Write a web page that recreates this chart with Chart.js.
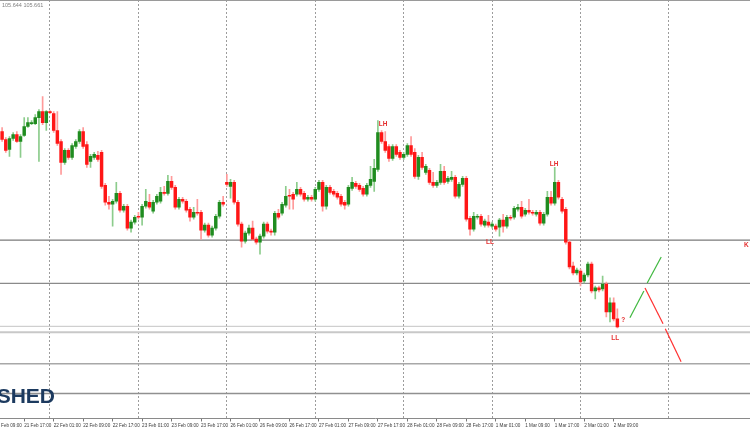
<!DOCTYPE html>
<html><head><meta charset="utf-8">
<script src="https://cdn.jsdelivr.net/npm/chart.js@4"></script>
<style>html,body{margin:0;padding:0;background:#fff;overflow:hidden}#wrap{width:750px;height:430px;position:relative}</style>
</head><body><div id="wrap"><canvas id="c" width="750" height="430"></canvas></div>
<script>
// hour index of first candle (0 = 22 Feb 00:00, weekends skipped)
const firstBar = -13;
const opens = [
107.55,107.47,107.37,107.48,107.52,107.45,107.51,107.60,107.63,107.63,
107.69,107.75,107.64,107.75,107.73,107.56,107.45,107.24,107.36,107.29,
107.40,107.45,107.55,107.42,107.25,107.29,107.31,107.34,107.01,106.84,
106.82,106.85,106.93,106.76,106.80,106.58,106.64,106.70,106.69,106.80,
106.84,106.75,106.84,106.85,106.94,106.93,107.05,106.99,106.79,106.87,
106.85,106.77,106.69,106.74,106.74,106.56,106.61,106.51,106.58,106.70,
106.84,107.04,107.00,107.04,106.84,106.62,106.45,106.53,106.58,106.47,
106.44,106.50,106.62,106.55,106.54,106.73,106.73,106.81,106.91,106.92,
106.92,106.97,106.93,106.87,106.89,106.87,106.97,107.04,106.80,106.99,
106.95,106.93,106.90,106.84,106.82,106.98,107.03,107.01,106.98,106.92,
107.01,107.05,107.17,107.54,107.45,107.40,107.28,107.40,107.34,107.29,
107.32,107.41,107.34,107.10,107.29,107.14,107.16,107.04,107.01,107.04,
107.15,107.05,107.07,107.09,106.90,107.02,107.08,106.68,106.57,106.69,
106.70,106.61,106.64,106.60,106.60,106.59,106.66,106.60,106.69,106.69,
106.77,106.79,106.72,106.76,106.74,106.72,106.74,106.63,106.72,106.89,
106.83,107.04,106.87,106.77,106.44,106.20,106.13,106.15,106.05,106.11,
106.22,105.95,105.98,105.97,106.02,105.74,105.83,105.67];
const closes = [
107.47,107.36,107.48,107.52,107.45,107.50,107.60,107.64,107.64,107.69,
107.75,107.64,107.75,107.74,107.56,107.43,107.24,107.36,107.29,107.41,
107.45,107.55,107.40,107.22,107.30,107.32,107.27,107.00,106.84,106.82,
106.85,106.93,106.76,106.80,106.58,106.64,106.69,106.69,106.80,106.85,
106.79,106.84,106.90,106.94,106.93,107.05,106.99,106.79,106.87,106.85,
106.76,106.69,106.74,106.73,106.56,106.61,106.51,106.58,106.70,106.84,
106.82,107.02,107.04,106.84,106.62,106.45,106.53,106.58,106.47,106.44,
106.50,106.62,106.55,106.54,106.73,106.69,106.82,106.90,106.90,106.87,
106.97,106.92,106.87,106.89,106.87,106.97,107.04,106.80,106.99,106.94,
106.92,106.89,106.82,106.81,106.99,107.04,107.00,106.97,106.92,107.01,
107.07,107.18,107.54,107.45,107.36,107.28,107.40,107.32,107.29,107.32,
107.41,107.32,107.10,107.29,107.19,107.20,107.04,107.01,107.04,107.15,
107.04,107.08,107.09,106.90,107.02,107.08,106.67,106.57,106.70,106.70,
106.62,106.65,106.61,106.62,106.57,106.66,106.60,106.69,106.68,106.78,
106.79,106.70,106.76,106.74,106.73,106.74,106.63,106.72,106.89,106.83,
107.04,106.89,106.75,106.44,106.19,106.13,106.16,106.04,106.11,106.22,
105.95,105.98,105.96,106.02,105.74,105.83,105.67,105.59];
const highs = [
107.59,107.49,107.50,107.54,107.55,107.52,107.69,107.69,107.66,107.72,
107.77,107.90,107.76,107.76,107.75,107.75,107.47,107.38,107.38,107.43,
107.47,107.57,107.59,107.45,107.32,107.34,107.35,107.36,107.03,106.90,
106.87,107.04,106.95,106.82,106.82,106.66,106.71,106.74,106.82,106.97,
106.92,106.86,106.92,106.99,107.00,107.11,107.10,107.01,106.89,106.89,
106.87,106.79,106.79,106.87,106.76,106.63,106.63,106.60,106.72,106.86,
106.90,107.12,107.07,107.06,106.86,106.64,106.55,106.61,106.65,106.49,
106.52,106.64,106.64,106.57,106.75,106.77,106.84,107.00,106.97,106.94,
107.04,106.99,106.95,106.91,106.91,106.99,107.06,107.06,107.01,107.01,
106.97,106.95,106.92,106.86,107.01,107.09,107.05,107.03,107.00,107.03,
107.20,107.27,107.66,107.56,107.55,107.42,107.42,107.42,107.36,107.34,
107.43,107.50,107.38,107.31,107.34,107.22,107.18,107.14,107.06,107.22,
107.20,107.10,107.15,107.11,107.04,107.10,107.10,106.70,106.74,106.72,
106.72,106.67,106.71,106.64,106.62,106.68,106.72,106.71,106.71,106.80,
106.82,106.85,106.78,106.87,106.76,106.76,106.76,106.74,106.95,106.95,
107.19,107.06,106.89,106.79,106.46,106.24,106.18,106.17,106.13,106.24,
106.24,106.00,106.00,106.10,106.04,105.88,105.88,105.77];
const lows = [
107.45,107.34,107.30,107.46,107.44,107.29,107.50,107.59,107.62,107.62,
107.25,107.62,107.56,107.73,107.54,107.41,107.12,107.22,107.27,107.27,
107.38,107.43,107.38,107.19,107.19,107.27,107.25,106.98,106.81,106.77,
106.60,106.83,106.74,106.74,106.56,106.54,106.62,106.67,106.61,106.78,
106.77,106.73,106.82,106.83,106.91,106.91,106.97,106.77,106.77,106.83,
106.74,106.65,106.67,106.71,106.47,106.54,106.49,106.49,106.56,106.68,
106.80,107.00,106.88,106.82,106.60,106.39,106.43,106.51,106.46,106.42,
106.32,106.48,106.53,106.51,106.51,106.67,106.71,106.79,106.77,106.77,
106.90,106.90,106.85,106.85,106.85,106.85,106.95,106.75,106.77,106.92,
106.90,106.87,106.80,106.77,106.80,106.96,106.98,106.95,106.90,106.90,
106.99,106.95,107.15,107.43,107.34,107.25,107.26,107.30,107.27,107.27,
107.30,107.30,107.08,107.07,107.17,107.12,107.02,106.99,106.99,107.02,
107.02,107.03,107.05,106.88,106.88,107.00,106.65,106.51,106.55,106.67,
106.60,106.59,106.59,106.58,106.55,106.50,106.54,106.58,106.66,106.67,
106.75,106.68,106.70,106.72,106.71,106.70,106.61,106.61,106.70,106.81,
106.81,106.87,106.73,106.42,106.17,106.11,106.11,106.00,106.03,106.09,
105.93,105.87,105.94,105.95,105.69,105.64,105.65,105.58];

// time axis labels (every 8 bars) and daily separators
const labelHours = [-15,-7,1,9,17,25,33,41,49,57,65,73,81,89,97,105,113,121,129,137,145,153];
const labelTexts = ["21 Feb 09:00","21 Feb 17:00","22 Feb 01:00","22 Feb 09:00","22 Feb 17:00",
 "23 Feb 01:00","23 Feb 09:00","23 Feb 17:00","26 Feb 01:00","26 Feb 09:00","26 Feb 17:00",
 "27 Feb 01:00","27 Feb 09:00","27 Feb 17:00","28 Feb 01:00","28 Feb 09:00","28 Feb 17:00",
 "1 Mar 01:00","1 Mar 09:00","1 Mar 17:00","2 Mar 01:00","2 Mar 09:00"];
const dayStarts = [0,24,48,72,96,120,144,168];

// horizontal levels
const levelPrices = [106.46,106.025,105.595,105.535,105.22,104.92];
const levelColors = ['#7a7a7a','#8a8a8a','#c4c4c4','#c8c8c8','#a8a8a8','#909090'];
const levelWidths = [1.3,1.3,1,2,1.5,1.5];

// projection lines
const upPath1 = [[157.4,105.68],[161.2,105.95]];
const upPath2 = [[162.1,106.03],[165.9,106.29]];
const downPath1 = [[161.5,105.98],[166.4,105.62]];
const downPath2 = [[167.0,105.57],[171.3,105.24]];

// text notes
const noteText = ['LH','LH','LL','LL','?','K'];
const noteHour = [90.4,136.8,119.4,153.4,155.6,188.4];
const notePrice = [107.62,107.22,106.44,105.48,105.66,106.41];

const viewStart = -13.57, viewEnd = 190.0;
const priceMin = 104.67, priceMax = 108.87;

const hours = opens.map((_, i) => firstBar + i);
const isUp = opens.map((o, i) => closes[i] >= o);
const labelMap = {}; labelHours.forEach((h, i) => labelMap[h] = labelTexts[i]);
const daySet = new Set(dayStarts);
const allTicks = Array.from(new Set([...labelHours, ...dayStarts])).sort((a, b) => a - b);

const GREEN = '#1f8c1f', RED = '#ff1616', GWICK = '#8ccc8c', RWICK = '#ff9a9a';

const datasets = [];
levelPrices.forEach((p, i) => datasets.push({
  type: 'line', data: [{x: viewStart, y: p}, {x: viewEnd, y: p}],
  borderColor: levelColors[i], borderWidth: levelWidths[i], pointRadius: 0, order: 20
}));
datasets.push({
  type: 'bar', data: hours.map((h, i) => ({x: h, y: [lows[i], highs[i]]})),
  backgroundColor: ctx => isUp[ctx.dataIndex] ? GWICK : RWICK,
  barThickness: 1, grouped: false, order: 10
});
datasets.push({
  type: 'bar', data: hours.map((h, i) => ({x: h, y: [opens[i], closes[i]]})),
  backgroundColor: ctx => isUp[ctx.dataIndex] ? GREEN : RED,
  barThickness: 2.8, grouped: false, minBarLength: 1, order: 5
});
[[upPath1, '#3fb83f'], [upPath2, '#3fb83f'], [downPath1, '#ff3030'], [downPath2, '#ff3030']].forEach(([pts, col]) => datasets.push({
  type: 'line', data: pts.map(p => ({x: p[0], y: p[1]})),
  borderColor: col, borderWidth: 1.2, pointRadius: 0, order: 1
}));

const decor = {
  id: 'decor',
  afterDatasetsDraw(chart) {
    const {ctx, chartArea: a, scales: {x, y}} = chart;
    ctx.save();
    ctx.strokeStyle = '#9a9a9a'; ctx.lineWidth = 1;
    ctx.beginPath(); ctx.moveTo(a.left, a.top + 0.5); ctx.lineTo(a.right, a.top + 0.5); ctx.stroke();
    ctx.fillStyle = '#e53030';
    ctx.font = 'bold 6.5px "Liberation Sans", Arial, sans-serif';
    ctx.textBaseline = 'middle';
    noteText.forEach((t, i) => {
      ctx.textAlign = t === 'K' ? 'left' : 'center';
      ctx.fillText(t, x.getPixelForValue(noteHour[i]), y.getPixelForValue(notePrice[i]));
    });
    ctx.fillStyle = '#1c3a5f';
    ctx.font = 'bold 21px "Liberation Sans", Arial, sans-serif';
    ctx.textAlign = 'right'; ctx.textBaseline = 'alphabetic';
    ctx.fillText('SHED', 55, 403);
    ctx.fillStyle = '#808080';
    ctx.font = '5.5px "Liberation Sans", Arial, sans-serif';
    ctx.textAlign = 'left'; ctx.textBaseline = 'middle';
    ctx.fillText('105.644 105.661', 2, 5);
    ctx.restore();
  }
};

new Chart(document.getElementById('c'), {
  type: 'bar',
  data: {datasets},
  options: {
    responsive: false, animation: false, devicePixelRatio: 1,
    layout: {padding: 0},
    plugins: {legend: {display: false}, tooltip: {enabled: false}},
    scales: {
      x: {
        type: 'linear', min: viewStart, max: viewEnd, offset: false,
        afterBuildTicks: s => { s.ticks = allTicks.map(v => ({value: v})); },
        afterFit: s => { s.paddingLeft = 0; s.paddingRight = 0; },
        ticks: {
          autoSkip: false, maxRotation: 0, minRotation: 0, align: 'start', padding: 1.5,
          color: '#3a3a3a', font: {family: '"Liberation Sans", Arial, sans-serif', size: 4.6, lineHeight: 1.2},
          callback: v => labelMap[v] !== undefined ? labelMap[v] : ''
        },
        grid: {
          offset: false, lineWidth: 1, tickLength: 3, drawTicks: true,
          color: c => (c.tick && daySet.has(c.tick.value)) ? '#9c9c9c' : 'rgba(0,0,0,0)',
          tickColor: c => (c.tick && labelMap[c.tick.value] !== undefined) ? '#777' : 'rgba(0,0,0,0)'
        },
        border: {display: true, color: '#8a8a8a', width: 1, dash: [2, 2]}
      },
      y: {type: 'linear', display: false, min: priceMin, max: priceMax}
    }
  },
  plugins: [decor]
});
</script></body></html>
